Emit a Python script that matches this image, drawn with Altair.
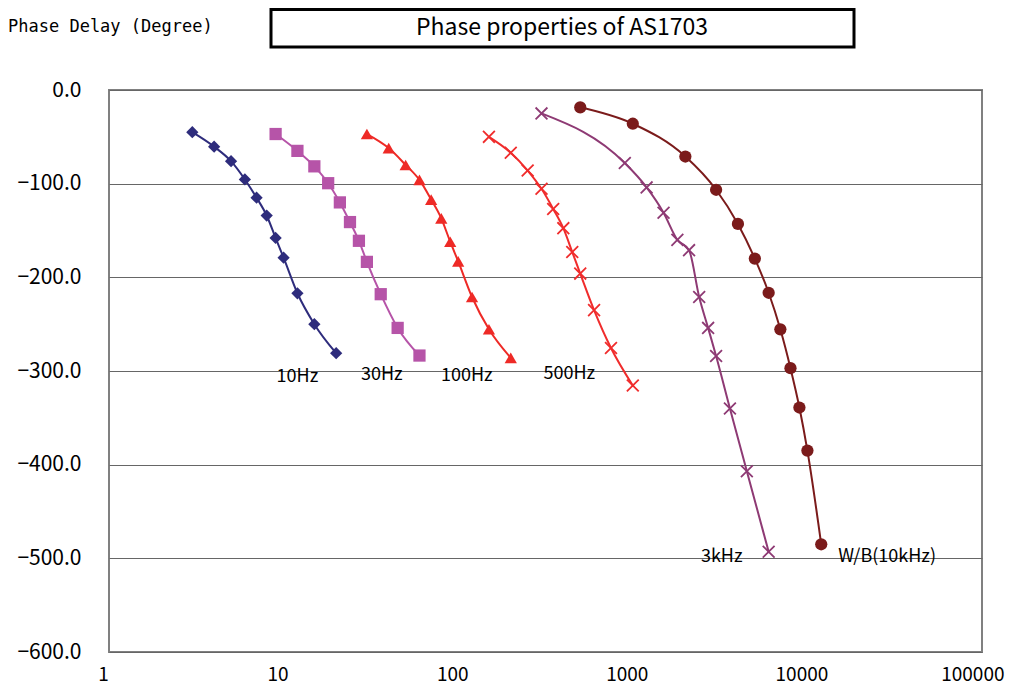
import altair as alt
import pandas as pd

# ---- data ----
series_names = ["10Hz", "30Hz", "100Hz", "500Hz", "3kHz", "W/B(10kHz)"]
series_colors = ["#2E2C7C", "#B654A8", "#EE2A26", "#F02C2C", "#8E3A74", "#7B1B1B"]

f_10 = [3, 4, 5, 6, 7, 8, 9, 10, 12, 15, 20]
p_10 = [-45, -60.5, -76, -95.5, -115, -134, -158, -179, -217, -250, -281]

f_30 = [9, 12, 15, 18, 21, 24, 27, 30, 36, 45, 60]
p_30 = [-47, -65, -81.5, -99.5, -120, -141, -161, -183.5, -218, -254, -283.5]

f_100 = [30, 40, 50, 60, 70, 80, 90, 100, 120, 150, 200]
p_100 = [-47, -62, -80, -96, -117, -137, -162, -183, -221, -255.5, -286]

f_500 = [150, 200, 250, 300, 350, 400, 450, 500, 600, 750, 1000]
p_500 = [-50, -67, -86, -105.5, -127, -147.5, -173, -196, -235, -275.5, -315.5]

f_3k = [300, 900, 1200, 1500, 1800, 2100, 2400, 2700, 3000, 3600, 4500, 6000]
p_3k = [-25, -78, -104, -131, -160, -171, -221, -254, -284, -340, -407, -493]

f_wb = [500, 1000, 2000, 3000, 4000, 5000, 6000, 7000, 8000, 9000, 10000, 12000]
p_wb = [-18.5, -36, -71, -106.5, -143, -180, -216.5, -255.5, -297, -339, -385, -485]

label_x = [12, 36.5, 112, 433, 3230, 28600]
label_y = [-306, -304, -305, -303, -499, -499]

x_ticks = [1, 10, 100, 1000, 10000, 100000]
y_ticks = [0, -100, -200, -300, -400, -500, -600]

title_text = "Phase properties of AS1703"
y_title_text = "Phase Delay (Degree)"

filled_series = ["10Hz", "30Hz", "100Hz", "W/B(10kHz)"]
filled_shapes = ["diamond", "square", "triangle-up", "circle"]
cross_series = ["500Hz", "3kHz"]

# ---- build table ----
freqs = [f_10, f_30, f_100, f_500, f_3k, f_wb]
phases = [p_10, p_30, p_100, p_500, p_3k, p_wb]
rows = []
for name, fs, ps in zip(series_names, freqs, phases):
    for f, p in zip(fs, ps):
        rows.append({"series": name, "freq": f, "phase": p})
df = pd.DataFrame(rows)
labels_df = pd.DataFrame({"series": series_names, "lx": label_x, "ly": label_y})

FONT = "Noto Sans CJK JP"

x_enc = alt.X(
    "freq:Q",
    scale=alt.Scale(type="log", domain=[1, 100000]),
    axis=alt.Axis(
        values=x_ticks, format="d", title=None, grid=False, domain=False,
        ticks=False, tickSize=0, labelPadding=13, labelFontSize=19,
        labelFont=FONT, labelColor="black", labelFlush=False,
        labelAlign={"expr": "datum.value == 100000 ? 'right' : 'center'"},
        labelOffset={"expr": "datum.value == 100000 ? 22 : -6"},
    ),
)
y_enc = alt.Y(
    "phase:Q",
    scale=alt.Scale(domain=[-600, 0], nice=False),
    axis=alt.Axis(
        values=y_ticks, format=".1f", title=None, grid=True, gridColor="#666666",
        gridWidth=1, domain=False, ticks=False, tickSize=0, labelPadding=28,
        labelFontSize=21, labelFont=FONT, labelColor="black",
    ),
)
color_enc = alt.Color(
    "series:N",
    scale=alt.Scale(domain=series_names, range=series_colors),
    legend=None,
)

lines = alt.Chart(df).mark_line(interpolate="monotone", strokeWidth=2).encode(
    x=x_enc, y=y_enc, color=color_enc, detail="series:N"
)

pts = (
    alt.Chart(df)
    .transform_filter(alt.FieldOneOfPredicate(field="series", oneOf=filled_series))
    .mark_point(filled=True, size=150, opacity=1)
    .encode(
        x="freq:Q",
        y="phase:Q",
        color=color_enc,
        shape=alt.Shape(
            "series:N",
            scale=alt.Scale(domain=filled_series, range=filled_shapes),
            legend=None,
        ),
    )
)

crosses = (
    alt.Chart(df)
    .transform_filter(alt.FieldOneOfPredicate(field="series", oneOf=cross_series))
    .mark_point(
        shape="M-1,-1L1,1M-1,1L1,-1", filled=False, size=140, strokeWidth=1.8,
        opacity=1,
    )
    .encode(x="freq:Q", y="phase:Q", color=color_enc)
)

labels = alt.Chart(labels_df).mark_text(
    font=FONT, fontSize=18, color="black", align="center", baseline="middle"
).encode(x=alt.X("lx:Q"), y=alt.Y("ly:Q"), text="series:N")

head_df = pd.DataFrame({"t": [title_text], "yt": [y_title_text]})

title_box = alt.Chart(head_df).mark_rect(
    fill="white", stroke="black", strokeWidth=3
).encode(
    x=alt.value(162), x2=alt.value(745), y=alt.value(-80.5), y2=alt.value(-43)
)
title_txt = alt.Chart(head_df).mark_text(
    font=FONT, fontSize=23, color="black", align="center", baseline="middle"
).encode(x=alt.value(453), y=alt.value(-62), text="t:N")
y_title = alt.Chart(head_df).mark_text(
    font="DejaVu Sans Mono", fontSize=17, color="black", align="left",
    baseline="middle"
).encode(x=alt.value(-101), y=alt.value(-63), text="yt:N")

chart = (
    alt.layer(lines, pts, crosses, labels, title_box, title_txt, y_title)
    .properties(
        width=873,
        height=562,
        autosize=alt.AutoSizeParams(type="none"),
        padding={"left": 101, "top": 82, "right": 23, "bottom": 33},
        background="white",
    )
    .configure_view(stroke="#808080", strokeWidth=2)
)

chart.save("out.html", embed_options={"renderer": "svg", "actions": False})
